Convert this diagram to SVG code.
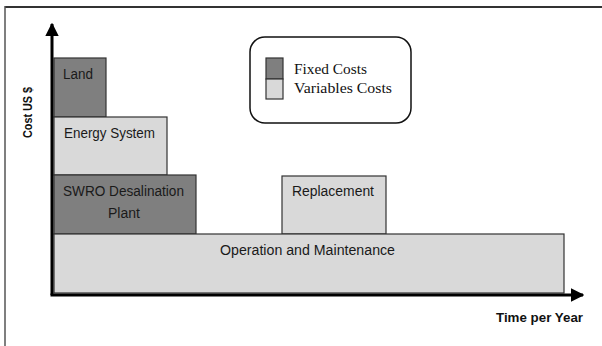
<svg xmlns="http://www.w3.org/2000/svg" width="602" height="346" viewBox="0 0 602 346">
  <style>
    .fixed { fill: #7f7f7f; stroke: #333; stroke-width: 1.2; }
    .var { fill: #d9d9d9; stroke: #333; stroke-width: 1.2; }
    .lbl { font-family: "Liberation Sans", Arial, sans-serif; font-size: 14px; fill: #1a1a1a; }
    .axis-lbl { font-family: "Liberation Sans", Arial, sans-serif; font-size: 13px; font-weight: bold; fill: #111; }
    .leg { font-family: "Liberation Serif", "Times New Roman", serif; font-size: 15.5px; fill: #111; }
  </style>
  <defs>
    <marker id="arrow" viewBox="0 0 10 10" refX="9" refY="5" markerWidth="4.5" markerHeight="4.5" orient="auto" markerUnits="strokeWidth">
      <path d="M0,0 L10,5 L0,10 z" fill="#000"/>
    </marker>
  </defs>
  <rect width="602" height="346" fill="#fff"/>
  <!-- frame (top and left edges) -->
  <line x1="5" y1="7" x2="602" y2="7" stroke="#333" stroke-width="2"/>
  <line x1="5" y1="6" x2="5" y2="346" stroke="#555" stroke-width="1.5"/>

  <!-- cost blocks -->
  <g id="land">
    <rect class="fixed" x="54" y="58" width="52" height="59"/>
    <text class="lbl" x="63" y="79" textLength="30" lengthAdjust="spacingAndGlyphs">Land</text>
  </g>
  <g id="energy">
    <rect class="var" x="54" y="117" width="113" height="58"/>
    <text class="lbl" x="64" y="138" textLength="91" lengthAdjust="spacingAndGlyphs">Energy System</text>
  </g>
  <g id="swro">
    <rect class="fixed" x="54" y="175" width="142" height="59"/>
    <text class="lbl" x="63" y="196" textLength="121" lengthAdjust="spacingAndGlyphs">SWRO Desalination</text>
    <text class="lbl" x="108" y="218" textLength="32" lengthAdjust="spacingAndGlyphs">Plant</text>
  </g>
  <g id="replacement">
    <rect class="var" x="282" y="176" width="104" height="58"/>
    <text class="lbl" x="292" y="196" textLength="82" lengthAdjust="spacingAndGlyphs">Replacement</text>
  </g>
  <g id="om">
    <rect class="var" x="54" y="234" width="510" height="59"/>
    <text class="lbl" x="220" y="255" textLength="175" lengthAdjust="spacingAndGlyphs">Operation and Maintenance</text>
  </g>

  <!-- axes -->
  <g id="axes">
    <line x1="52" y1="295" x2="52" y2="24" stroke="#000" stroke-width="3" marker-end="url(#arrow)"/>
    <line x1="50.5" y1="295" x2="583" y2="295" stroke="#000" stroke-width="3" marker-end="url(#arrow)"/>
  </g>
  <text class="axis-lbl" x="496" y="322" textLength="87" lengthAdjust="spacingAndGlyphs">Time per Year</text>
  <text class="axis-lbl" transform="translate(32,138) rotate(-90)" textLength="51" lengthAdjust="spacingAndGlyphs">Cost US $</text>

  <!-- legend -->
  <g id="legend">
    <rect x="250" y="37" width="161" height="86" rx="15" ry="15" fill="#fff" stroke="#111" stroke-width="1.5"/>
    <rect class="fixed" x="266" y="58" width="17" height="21" stroke-width="1"/>
    <rect class="var" x="266" y="79" width="17" height="20" stroke-width="1"/>
    <text class="leg" x="294" y="74" textLength="73" lengthAdjust="spacingAndGlyphs">Fixed Costs</text>
    <text class="leg" x="294" y="93" textLength="98" lengthAdjust="spacingAndGlyphs">Variables Costs</text>
  </g>
</svg>
